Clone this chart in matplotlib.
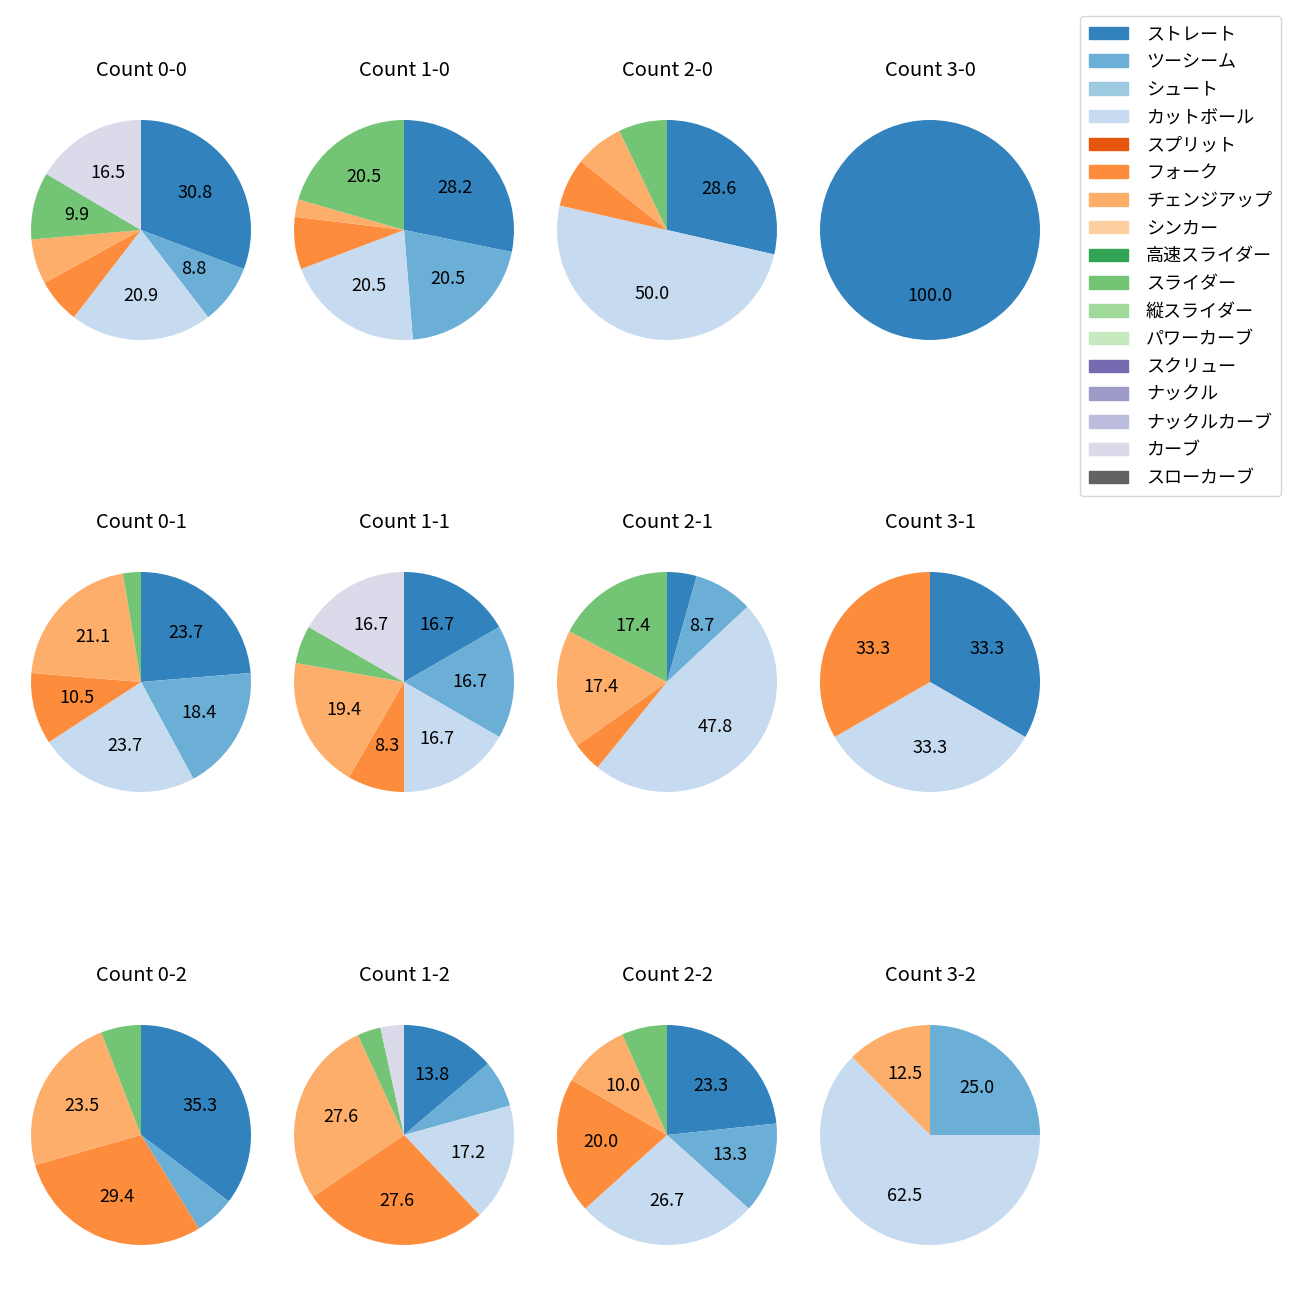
import matplotlib.pyplot as plt
from matplotlib.patches import Patch

plt.rcParams['font.family'] = ['Noto Sans CJK JP', 'DejaVu Sans']

pitch_types = ['ストレート', 'ツーシーム', 'シュート', 'カットボール', 'スプリット', 'フォーク',
               'チェンジアップ', 'シンカー', '高速スライダー', 'スライダー', '縦スライダー',
               'パワーカーブ', 'スクリュー', 'ナックル', 'ナックルカーブ', 'カーブ', 'スローカーブ']
cmap = plt.get_cmap('tab20c')
colors = [cmap(i) for i in range(17)]

# pitch counts per ball-strike count, in the order of pitch_types
counts = {
    '0-0': [28, 8, 0, 19, 0, 6, 6, 0, 0, 9, 0, 0, 0, 0, 0, 15, 0],
    '1-0': [11, 8, 0, 8, 0, 3, 1, 0, 0, 8, 0, 0, 0, 0, 0, 0, 0],
    '2-0': [4, 0, 0, 7, 0, 1, 1, 0, 0, 1, 0, 0, 0, 0, 0, 0, 0],
    '3-0': [1, 0, 0, 0, 0, 0, 0, 0, 0, 0, 0, 0, 0, 0, 0, 0, 0],
    '0-1': [9, 7, 0, 9, 0, 4, 8, 0, 0, 1, 0, 0, 0, 0, 0, 0, 0],
    '1-1': [6, 6, 0, 6, 0, 3, 7, 0, 0, 2, 0, 0, 0, 0, 0, 6, 0],
    '2-1': [1, 2, 0, 11, 0, 1, 4, 0, 0, 4, 0, 0, 0, 0, 0, 0, 0],
    '3-1': [1, 0, 0, 1, 0, 1, 0, 0, 0, 0, 0, 0, 0, 0, 0, 0, 0],
    '0-2': [6, 1, 0, 0, 0, 5, 4, 0, 0, 1, 0, 0, 0, 0, 0, 0, 0],
    '1-2': [4, 2, 0, 5, 0, 8, 8, 0, 0, 1, 0, 0, 0, 0, 0, 1, 0],
    '2-2': [7, 4, 0, 8, 0, 6, 3, 0, 0, 2, 0, 0, 0, 0, 0, 0, 0],
    '3-2': [0, 2, 0, 5, 0, 0, 1, 0, 0, 0, 0, 0, 0, 0, 0, 0, 0],
}

fig = plt.figure(figsize=(13, 13), dpi=100)

side = 275 / 1300
xc = [141, 404, 667, 930]
yc = [230, 682, 1135]

for strikes in range(3):
    for balls in range(4):
        key = f'{balls}-{strikes}'
        vals = counts[key]
        cx = xc[balls] / 1300
        cy = 1 - yc[strikes] / 1300
        ax = fig.add_axes([cx - side / 2, cy - side / 2, side, side])
        v = [x for x in vals if x > 0]
        c = [colors[i] for i, x in enumerate(vals) if x > 0]
        ax.pie(v, colors=c, startangle=90, counterclock=False,
               autopct=lambda p: f'{p:.1f}' if p >= 8 else '',
               textprops={'fontsize': 13})
        ax.set_title(f'Count {key}', fontsize=14.5, pad=12)

handles = [Patch(color=colors[i]) for i in range(17)]
fig.legend(handles, pitch_types, loc='upper right', bbox_to_anchor=(0.9923, 0.9945),
           fontsize=13, handlelength=2.15, handletextpad=1.0, labelspacing=0.54,
           borderpad=0.5)

fig.savefig('out.png')
